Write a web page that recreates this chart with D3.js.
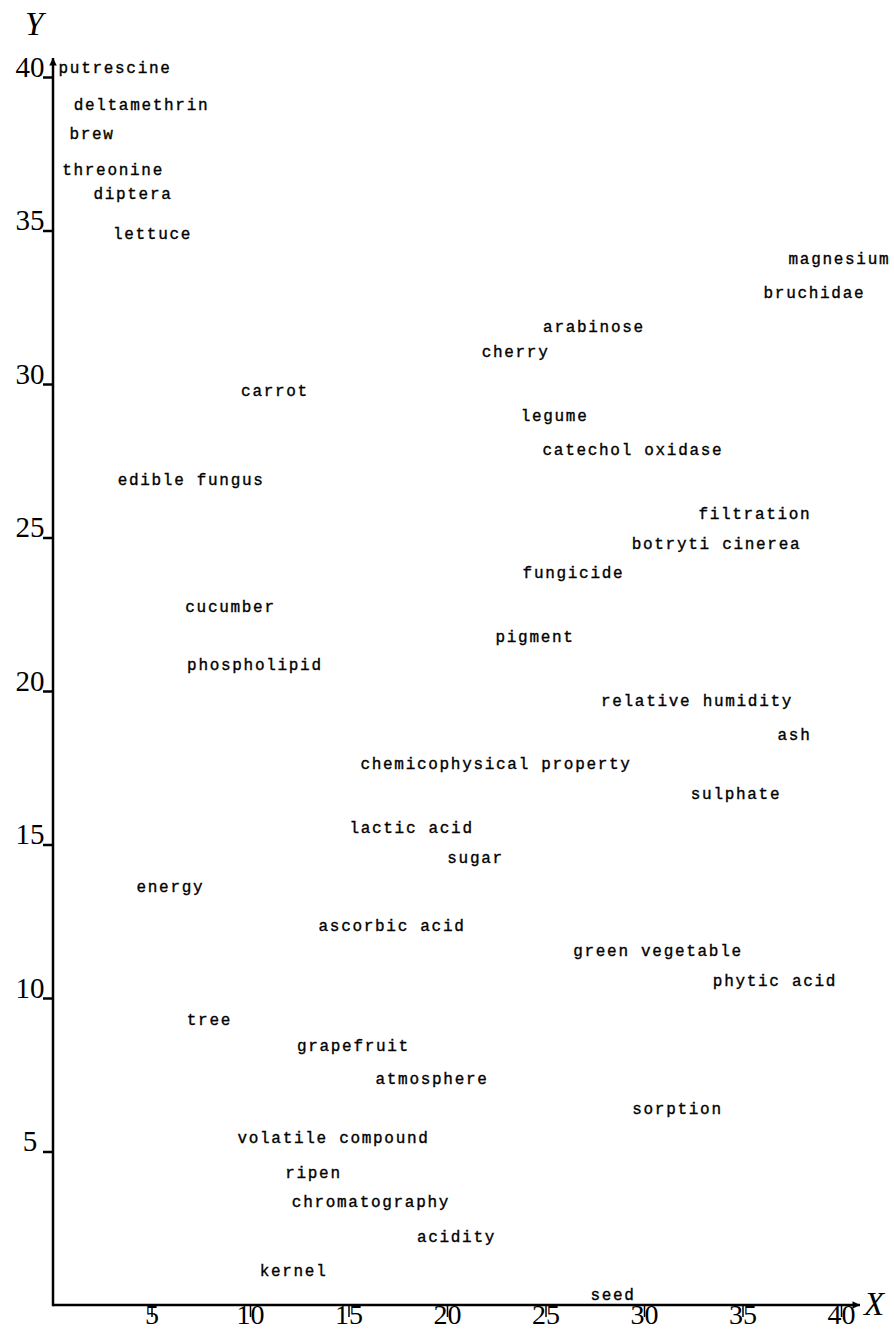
<!DOCTYPE html>
<html>
<head>
<meta charset="utf-8">
<script src="https://cdn.jsdelivr.net/npm/d3@7"></script>
<style>
  body { margin: 0; background: #fff; }
  .term { font-family: "Liberation Mono", monospace; font-size: 16px; letter-spacing: 1.7px; fill: #000; stroke: #000; stroke-width: 0.35px; }
  .tick text { font-family: "Liberation Serif", serif; font-size: 29px; fill: #000; }
  .x-axis .tick text { font-size: 28px; }
  .axis-name { font-family: "Liberation Serif", serif; font-style: italic; font-size: 33px; }
</style>
</head>
<body>
<div class="chart"></div>
<script>
// Set H/W
const svgWidth = 894;
const svgHeight = 1331;

// Terms and their positions (x, y)
const terms = ["putrescine", "deltamethrin", "brew", "threonine", "diptera", "lettuce",
  "magnesium", "bruchidae", "arabinose", "cherry", "carrot", "legume", "catechol oxidase",
  "edible fungus", "filtration", "botryti cinerea", "fungicide", "cucumber", "pigment",
  "phospholipid", "relative humidity", "ash", "chemicophysical property", "sulphate",
  "lactic acid", "sugar", "energy", "ascorbic acid", "green vegetable", "phytic acid",
  "tree", "grapefruit", "atmosphere", "sorption", "volatile compound", "ripen",
  "chromatography", "acidity", "kernel", "seed"];
const xValues = [3.15, 4.49, 1.98, 3.05, 4.06, 5.05,
  39.92, 38.65, 27.46, 23.48, 11.27, 25.46, 29.44,
  7.01, 35.63, 33.68, 26.42, 9.01, 24.47,
  10.25, 32.69, 37.64, 22.49, 34.67,
  18.20, 21.45, 5.96, 17.21, 30.71, 36.65,
  7.94, 15.25, 19.24, 31.70, 14.24, 13.22,
  16.14, 20.48, 12.21, 28.43];
const yValues = [40.30, 39.08, 38.14, 36.97, 36.18, 34.89,
  34.07, 32.96, 31.86, 31.04, 29.77, 28.96, 27.85,
  26.87, 25.77, 24.79, 23.84, 22.74, 21.76,
  20.84, 19.68, 18.57, 17.62, 16.65,
  15.54, 14.56, 13.62, 12.35, 11.53, 10.56,
  9.28, 8.43, 7.36, 6.38, 5.43, 4.30,
  3.35, 2.21, 1.11, 0.32];
const tickValues = [5, 10, 15, 20, 25, 30, 35, 40];

const data = terms.map((t, i) => ({ term: t, x: xValues[i], y: yValues[i] }));

const svg = d3.select(".chart")
  .append("svg")
  .attr("width", svgWidth)
  .attr("height", svgHeight);

// scales
const xScale = d3.scaleLinear().domain([0, 40]).range([53, 841]);
const yScale = d3.scaleLinear().domain([0, 40]).range([1305, 77]);

// arrow marker
svg.append("defs").append("marker")
  .attr("id", "arrow")
  .attr("viewBox", "0 0 10 10")
  .attr("refX", 10)
  .attr("refY", 5)
  .attr("markerWidth", 4)
  .attr("markerHeight", 3)
  .attr("markerUnits", "strokeWidth")
  .attr("orient", "auto")
  .append("path")
  .attr("d", "M0,0L10,5L0,10Z")
  .attr("fill", "#000");

// x axis
const xAxis = svg.append("g")
  .classed("x-axis", true)
  .attr("transform", `translate(0, ${yScale(0)})`)
  .call(d3.axisBottom(xScale).tickValues(tickValues).tickSize(12).tickSizeOuter(0));
xAxis.select(".domain").remove();
xAxis.selectAll(".tick line").attr("stroke-width", 1.5);
xAxis.selectAll(".tick text")
  .attr("y", 19)
  .attr("dy", 0);

// y axis
const yAxis = svg.append("g")
  .attr("transform", `translate(${xScale(0)}, 0)`)
  .call(d3.axisLeft(yScale).tickValues(tickValues).tickSize(10).tickSizeOuter(0));
yAxis.select(".domain").remove();
yAxis.selectAll(".tick line").attr("stroke-width", 2.5);
yAxis.selectAll(".tick text")
  .attr("x", -23)
  .attr("dy", -1)
  .attr("text-anchor", "middle");

// axis lines with arrows
svg.append("line")
  .attr("x1", xScale(0)).attr("y1", yScale(0))
  .attr("x2", 860).attr("y2", yScale(0))
  .attr("stroke", "#000").attr("stroke-width", 2.5)
  .attr("marker-end", "url(#arrow)");
svg.append("line")
  .attr("x1", xScale(0)).attr("y1", yScale(0) + 1.2)
  .attr("x2", xScale(0)).attr("y2", 58)
  .attr("stroke", "#000").attr("stroke-width", 2.5)
  .attr("marker-end", "url(#arrow)");

svg.append("text").attr("class", "axis-name")
  .attr("x", 864).attr("y", 1315).text("X");
svg.append("text").attr("class", "axis-name")
  .attr("x", 25).attr("y", 35).text("Y");

// term labels
svg.append("g")
  .selectAll("text")
  .data(data)
  .enter()
  .append("text")
  .attr("class", "term")
  .attr("x", d => xScale(d.x))
  .attr("y", d => yScale(d.y))
  .attr("dy", "0.32em")
  .attr("text-anchor", "middle")
  .text(d => d.term);
</script>
</body>
</html>
